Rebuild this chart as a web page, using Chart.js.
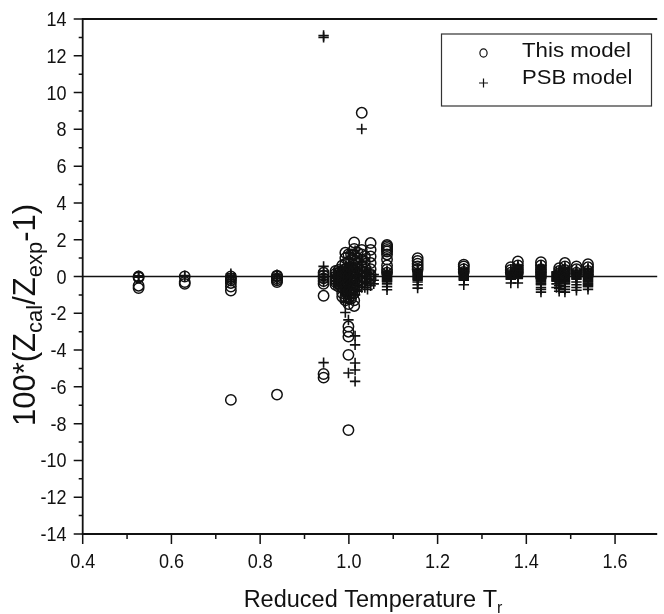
<!DOCTYPE html>
<html>
<head>
<meta charset="utf-8">
<title>Deviation vs reduced temperature</title>
<script src="https://cdn.jsdelivr.net/npm/chart.js@4.4.1/dist/chart.umd.min.js"></script>
<style>
  html, body { margin: 0; padding: 0; background: #fff; }
  #wrap { width: 664px; height: 614px; }
</style>
</head>
<body>
<div id="wrap"><canvas id="chart" width="664" height="614"></canvas></div>
<script>
// ── Data ──

// "This model" — reduced temperature of each column and the deviations in it
const thisTr = [0.526, 0.630, 0.734, 0.838, 0.943, 0.970, 0.977, 0.985, 0.992, 0.999,
  1.005, 1.012, 1.020, 1.029, 1.036, 1.049, 1.086, 1.155, 1.259, 1.365,
  1.381, 1.433, 1.474, 1.487, 1.513, 1.539];
const thisDev = [
  [-0.63, -0.5, -0.05, 0.0],
  [-0.4, -0.3, 0.0],
  [-0.76, -0.55, -0.35, -0.2, -0.1, 0.0, -6.71],
  [-0.3, -0.2, -0.1, 0.0, 0.05, -6.42],
  [-1.05, -0.4, -0.25, -0.1, 0.05, 0.2, -5.3, -5.5],
  [0.3, 0.15, 0.0, -0.15, -0.3, -0.45],
  [0.35, 0.2, 0.05, -0.1, -0.25, -0.4, -0.55],
  [0.6, 0.3, 0.0, -0.3, -0.6, -0.9, -1.1],
  [1.29, 1.0, 0.7, 0.4, 0.1, -0.2, -0.5, -0.8, -1.1, -1.3],
  [1.2, 0.8, 0.4, 0.0, -0.4, -0.8, -1.2, -1.5, -2.72, -3.0, -3.27, -4.26, -8.35],
  [1.2, 0.9, 0.5, 0.2, -0.2, -0.5, -0.9, -1.2],
  [1.85, 1.5, 1.2, 0.9, 0.6, 0.3, 0.0, -0.3, -0.6, -0.9, -1.3, -1.6],
  [1.3, 1.0, 0.7, 0.4, 0.1, -0.2, -0.5],
  [1.45, 1.2, 0.9, 0.6, 0.3, 0.0, -0.3, 8.9],
  [1.1, 0.8, 0.5, 0.2, -0.1],
  [1.82, 1.45, 1.09, 0.73, 0.4, 0.1, -0.1],
  [1.72, 1.65, 1.55, 1.45, 1.36, 1.2, 0.92, 0.6, 0.38, 0.2],
  [1.0, 0.85, 0.7, 0.55, 0.4],
  [0.64, 0.55, 0.4, 0.25],
  [0.51, 0.35, 0.2],
  [0.82, 0.6, 0.4, 0.2],
  [0.78, 0.6, 0.4, 0.2, 0.0],
  [0.45, 0.3, 0.15],
  [0.73, 0.55, 0.35, 0.15],
  [0.55, 0.4, 0.2],
  [0.67, 0.5, 0.3, 0.1],
];

// "PSB model"
const psbTr = [0.526, 0.630, 0.734, 0.838, 0.943, 0.970, 0.977, 0.985, 0.992, 0.999,
  1.005, 1.014, 1.020, 1.029, 1.036, 1.042, 1.049, 1.056, 1.086, 1.155,
  1.259, 1.365, 1.381, 1.433, 1.468, 1.474, 1.487, 1.513, 1.539];
const psbDev = [
  [0.04, 0.0, -0.04],
  [0.05, 0.0],
  [0.15, 0.05, -0.05, -0.15, -0.25],
  [0.1, 0.0, -0.1, -0.2],
  [0.55, 0.3, 0.1, 0.0, -0.15, -0.3, -4.68, 13.0, 13.1],
  [0.2, 0.05, -0.1, -0.25, -0.4],
  [0.3, 0.1, -0.1, -0.3, -0.5],
  [0.4, 0.1, -0.2, -0.5, -0.8],
  [0.5, 0.2, -0.1, -0.4, -0.7, -1.0, -1.4, -1.96],
  [1.3, 0.7, 0.3, 0.0, -0.3, -0.6, -0.9, -1.2, -2.36, -5.25],
  [0.6, 0.3, 0.0, -0.3, -0.6, -0.9, -1.2],
  [1.4, 0.5, 0.2, -0.1, -0.4, -0.7, -1.0, -3.23, -3.72, -4.7, -5.08, -5.7],
  [0.4, 0.1, -0.2, -0.5, -0.8],
  [0.8, 0.3, 0.0, -0.3, -0.6, 8.02],
  [0.3, 0.0, -0.3, -0.6],
  [0.2, -0.1, -0.4, -0.7],
  [0.3, 0.0, -0.3, -0.5],
  [0.1, -0.2, -0.4],
  [0.3, 0.25, 0.2, 0.15, 0.1, 0.05, 0.0, -0.05, -0.1, -0.15, -0.2, -0.25, -0.3, -0.4, -0.55, -0.72],
  [0.4, 0.35, 0.3, 0.25, 0.2, 0.15, 0.1, 0.05, 0.0, -0.05, -0.1, -0.15, -0.2, -0.3, -0.45, -0.63],
  [0.45, 0.4, 0.35, 0.3, 0.25, 0.2, 0.15, 0.1, 0.05, 0.0, -0.05, -0.1, -0.15, -0.2, -0.45],
  [0.35, 0.3, 0.25, 0.2, 0.15, 0.1, 0.05, 0.0, -0.05, -0.1, -0.15, -0.35],
  [0.6, 0.55, 0.5, 0.45, 0.4, 0.35, 0.3, 0.25, 0.2, 0.15, 0.1, 0.05, 0.0, -0.05, -0.1, -0.35],
  [0.6, 0.55, 0.5, 0.45, 0.4, 0.35, 0.3, 0.25, 0.2, 0.15, 0.1, 0.05, 0.0, -0.05, -0.1, -0.15,
    -0.2, -0.25, -0.3, -0.35, -0.4, -0.45, -0.6, -0.7, -0.85],
  [0.25, 0.2, 0.15, 0.1, 0.05, 0.0, -0.05, -0.1, -0.15, -0.2, -0.25, -0.4, -0.6],
  [0.3, 0.25, 0.2, 0.15, 0.1, 0.05, 0.0, -0.1, -0.2, -0.3, -0.5, -0.65, -0.8],
  [0.5, 0.45, 0.4, 0.35, 0.3, 0.25, 0.2, 0.15, 0.1, 0.05, 0.0, -0.05, -0.1, -0.15, -0.2,
    -0.25, -0.3, -0.35, -0.4, -0.55, -0.7, -0.85],
  [0.35, 0.3, 0.25, 0.2, 0.15, 0.1, 0.05, 0.0, -0.05, -0.1, -0.15, -0.3, -0.45, -0.6, -0.75],
  [0.45, 0.4, 0.35, 0.3, 0.25, 0.2, 0.15, 0.1, 0.05, 0.0, -0.05, -0.1, -0.15, -0.2, -0.25,
    -0.3, -0.35, -0.4, -0.45, -0.5, -0.55, -0.7],
];

const seriesLabels = ["This model", "PSB model"];

// Axis ticks
const xMajor = [0.4, 0.6, 0.8, 1.0, 1.2, 1.4, 1.6];
const xMinor = [0.5, 0.7, 0.9, 1.1, 1.3, 1.5];
const yMajor = [-14, -12, -10, -8, -6, -4, -2, 0, 2, 4, 6, 8, 10, 12, 14];
const yMinor = [-13, -11, -9, -7, -5, -3, -1, 1, 3, 5, 7, 9, 11, 13];

function toPoints(trs, devs) {
  var pts = [];
  trs.forEach(function (t, i) {
    devs[i].forEach(function (d) { pts.push({ x: t, y: d }); });
  });
  return pts;
}

// ── Axes, titles and legend drawn onto the library's scales ──

const INK = "#111";
const FONT = "'Liberation Sans', Arial, sans-serif";

// text squeezed / stretched horizontally (the original font is narrower)
function textSx(ctx, s, x, y, sx) {
  ctx.save();
  ctx.translate(x, y);
  ctx.scale(sx, 1);
  ctx.fillText(s, 0, 0);
  ctx.restore();
}

function drawRich(ctx, parts, cx, baseY, big, small, drop) {
  var total = 0;
  parts.forEach(function (p) {
    ctx.font = p[1] ? small : big;
    total += ctx.measureText(p[0]).width;
  });
  var x = cx - total / 2;
  ctx.textAlign = "left";
  ctx.textBaseline = "alphabetic";
  parts.forEach(function (p) {
    ctx.font = p[1] ? small : big;
    ctx.fillText(p[0], x, baseY + (p[1] ? drop : 0));
    x += ctx.measureText(p[0]).width;
  });
}

const framePlugin = {
  id: "frame",
  beforeDatasetsDraw: function (chart) {
    var ctx = chart.ctx, a = chart.chartArea, ys = chart.scales.y;
    var y0 = ys.getPixelForValue(0);
    ctx.save();
    ctx.strokeStyle = INK;
    ctx.lineWidth = 1.6;
    ctx.beginPath();
    ctx.moveTo(a.left, y0);
    ctx.lineTo(a.right, y0);
    ctx.stroke();
    ctx.restore();
  },
  afterDraw: function (chart) {
    var ctx = chart.ctx, a = chart.chartArea;
    var xs = chart.scales.x, ys = chart.scales.y;
    ctx.save();
    ctx.strokeStyle = INK;
    ctx.fillStyle = INK;
    ctx.lineWidth = 1.8;

    // frame: left, bottom, top
    ctx.beginPath();
    ctx.moveTo(a.right, a.top);
    ctx.lineTo(a.left, a.top);
    ctx.lineTo(a.left, a.bottom);
    ctx.lineTo(a.right, a.bottom);
    ctx.stroke();

    // ticks
    ctx.lineWidth = 1.5;
    ctx.beginPath();
    xMajor.forEach(function (v) {
      var p = xs.getPixelForValue(v);
      ctx.moveTo(p, a.bottom); ctx.lineTo(p, a.bottom + 10);
    });
    xMinor.forEach(function (v) {
      var p = xs.getPixelForValue(v);
      ctx.moveTo(p, a.bottom); ctx.lineTo(p, a.bottom + 5);
    });
    yMajor.forEach(function (v) {
      var p = ys.getPixelForValue(v);
      ctx.moveTo(a.left, p); ctx.lineTo(a.left - 9, p);
    });
    yMinor.forEach(function (v) {
      var p = ys.getPixelForValue(v);
      ctx.moveTo(a.left, p); ctx.lineTo(a.left - 4, p);
    });
    ctx.stroke();

    // tick labels
    ctx.font = "20px " + FONT;
    ctx.textBaseline = "alphabetic";
    ctx.textAlign = "center";
    xMajor.forEach(function (v) {
      textSx(ctx, v.toFixed(1), xs.getPixelForValue(v), 568, 0.9);
    });
    ctx.textAlign = "right";
    yMajor.forEach(function (v) {
      textSx(ctx, String(v), 66.5, ys.getPixelForValue(v) + 7, 0.9);
    });

    // x title with subscript
    drawRich(ctx, [["Reduced Temperature T", false], ["r", true]], 373, 607,
      "23.5px " + FONT, "16px " + FONT, 6);
    // y title, rotated, with subscripts
    ctx.save();
    ctx.translate(35, 315);
    ctx.rotate(-Math.PI / 2);
    drawRich(ctx, [["100*(Z", false], ["cal", true], ["/Z", false], ["exp", true], ["-1)", false]],
      0, 0, "31px " + FONT, "22px " + FONT, 7);
    ctx.restore();

    // legend
    var lx = 441.5, ly = 34, lw = 210, lh = 72;
    ctx.lineWidth = 1.2;
    ctx.strokeStyle = "#333";
    ctx.strokeRect(lx, ly, lw, lh);
    ctx.strokeStyle = INK;
    ctx.lineWidth = 1.2;
    ctx.beginPath();
    ctx.ellipse(483.5, 53, 3.6, 4.2, 0, 0, Math.PI * 2);
    ctx.stroke();
    ctx.beginPath();
    ctx.moveTo(479, 83); ctx.lineTo(488, 83);
    ctx.moveTo(483.5, 78.5); ctx.lineTo(483.5, 87.5);
    ctx.stroke();
    ctx.font = "21px " + FONT;
    ctx.textAlign = "left";
    textSx(ctx, seriesLabels[0], 522, 57, 1.06);
    textSx(ctx, seriesLabels[1], 522, 83.5, 1.05);
    ctx.restore();
  },
};

// ── Chart ──

new Chart(document.getElementById("chart").getContext("2d"), {
  type: "scatter",
  data: {
    datasets: [
      {
        label: seriesLabels[0],
        data: toPoints(thisTr, thisDev),
        pointStyle: "circle",
        pointRadius: 5.2,
        pointBorderWidth: 1.5,
        borderColor: INK,
        backgroundColor: "rgba(0,0,0,0)",
      },
      {
        label: seriesLabels[1],
        data: toPoints(psbTr, psbDev),
        pointStyle: "cross",
        pointRadius: 5.2,
        pointBorderWidth: 1.6,
        borderColor: INK,
        backgroundColor: INK,
      },
    ],
  },
  options: {
    responsive: false,
    animation: false,
    layout: { padding: { left: 82.7, top: 19, right: 0, bottom: 80 } },
    plugins: { legend: { display: false }, tooltip: { enabled: false } },
    scales: {
      x: { type: "linear", min: 0.4, max: 1.695, display: false },
      y: { type: "linear", min: -14, max: 14, display: false },
    },
  },
  plugins: [framePlugin],
});
</script>
</body>
</html>
